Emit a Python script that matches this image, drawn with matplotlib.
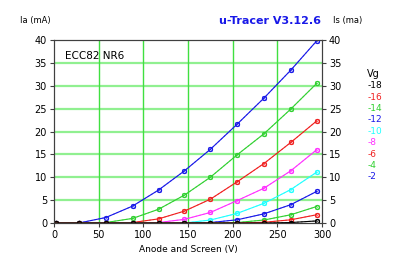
import matplotlib
matplotlib.use("Agg")
import matplotlib.pyplot as plt

# anode/screen voltage of each sweep point
va = [2, 28, 58, 88, 117, 146, 175, 205, 235, 265, 294]

# grid voltages and anode current (mA) for each curve
vg = [-2, -4, -6, -8, -10, -12, -14, -16, -18]
ia = {
    -2:  [0, 0, 1.2, 3.7, 7.2, 11.4, 16.1, 21.6, 27.3, 33.4, 39.8],
    -4:  [0, 0, 0.1, 1.0, 3.0, 6.1, 10.0, 14.9, 19.5, 24.9, 30.5],
    -6:  [0, 0, 0, 0.1, 0.9, 2.6, 5.2, 9.0, 13.0, 17.6, 22.3],
    -8:  [0, 0, 0, 0, 0.1, 0.8, 2.3, 4.9, 7.6, 11.4, 16.0],
    -10: [0, 0, 0, 0, 0, 0, 0.65, 2.1, 4.3, 7.3, 11.1],
    -12: [0, 0, 0, 0, 0, 0, 0.1, 0.7, 2.0, 4.0, 6.9],
    -14: [0, 0, 0, 0, 0, 0, 0, 0.1, 0.65, 1.8, 3.6],
    -16: [0, 0, 0, 0, 0, 0, 0, 0, 0.15, 0.7, 1.8],
    -18: [0, 0, 0, 0, 0, 0, 0, 0, 0, 0.1, 0.45],
}
colors = {
    -2: "#1818e8", -4: "#30d030", -6: "#f02020", -8: "#ff30ff",
    -10: "#20ffff", -12: "#1818e8", -14: "#30d030", -16: "#f02020",
    -18: "#000000",
}

fig = plt.figure(figsize=(4, 2.61), dpi=100)
ax = fig.add_axes([0.135, 0.1456, 0.67, 0.7011])

# grid
for y in range(5, 40, 5):
    ax.axhline(y, color="#90f090", lw=1.6, zorder=0)
for x in range(50, 300, 50):
    ax.axvline(x, color="#40e040", lw=1.0, zorder=0)

for g in vg:
    c = colors[g]
    ax.plot(va, ia[g], color=c, lw=0.8, marker="o", ms=3, mfc="none", mew=0.8, zorder=3)
    ax.plot(va, ia[g], color=c, lw=0.7, ls=(0, (2, 2)), marker="x", ms=3.5, mew=0.7,
            alpha=0.6, zorder=2)

ax.set_xlim(0, 300)
ax.set_ylim(0, 40)
ax.set_xticks(range(0, 301, 50))
ax.set_yticks(range(0, 41, 5))
ax.tick_params(labelsize=7, length=3, width=0.8, color="#404040", pad=2)
for s in ax.spines.values():
    s.set_color("#404040")
ax.set_xlabel("Anode and Screen (V)", fontsize=6.5, labelpad=4)

ax2 = ax.twinx()
ax2.set_ylim(0, 40)
ax2.set_yticks(range(0, 41, 5))
ax2.tick_params(labelsize=7, length=3, width=0.8, color="#404040", pad=2)
for s in ax2.spines.values():
    s.set_color("#404040")

fig.text(0.088, 0.92, "Ia (mA)", fontsize=6, ha="center", va="center")
fig.text(0.87, 0.92, "Is (ma)", fontsize=6, ha="center", va="center")
fig.text(0.675, 0.92, "u-Tracer V3.12.6", fontsize=8, color="#1818e8",
         fontweight="bold", ha="center", va="center")
ax.text(0.04, 0.915, "ECC82 NR6", transform=ax.transAxes, fontsize=7.5,
        ha="left", va="center")

# legend of grid voltages
fig.text(0.918, 0.716, "Vg", fontsize=7, ha="left", va="center")
for i, g in enumerate(sorted(vg)):
    fig.text(0.918, 0.672 - i * 0.0437, str(g), fontsize=6.5, color=colors[g],
             ha="left", va="center")

fig.savefig("out.png", dpi=100)
